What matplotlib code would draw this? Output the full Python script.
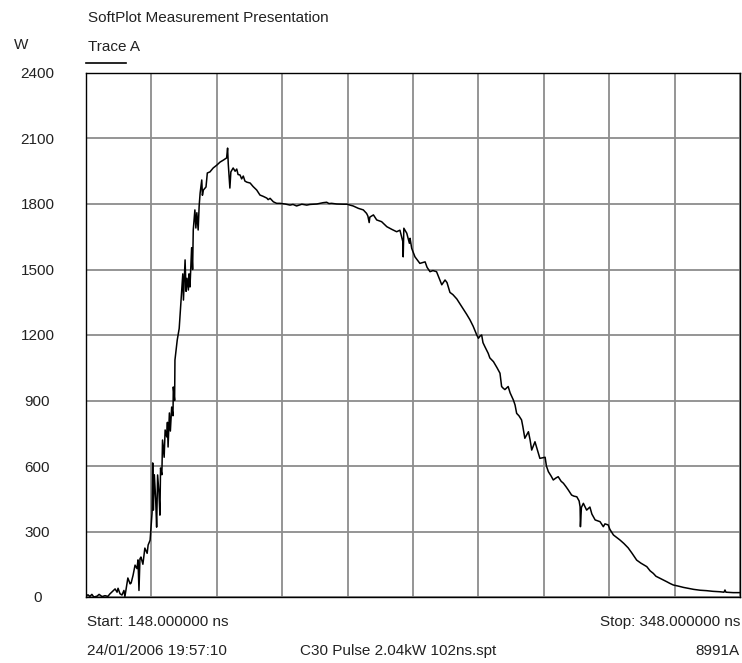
import matplotlib.pyplot as plt
import matplotlib
from matplotlib.lines import Line2D
import numpy as np

matplotlib.rcParams['font.family'] = ['Liberation Sans', 'DejaVu Sans']

# trace: time (ns) and power (W)
time_ns = [148.0, 148.6, 149.2, 149.8, 150.4, 151.4, 152.0, 152.9, 153.8, 154.7,
           155.3, 156.3, 156.9, 157.5, 157.8, 158.4, 159.0, 159.6, 159.9, 160.8,
           161.5, 161.8, 162.4, 163.0, 163.6, 163.9, 164.2, 164.5, 164.8, 165.4,
           166.0, 166.7, 167.0, 167.6, 167.9, 168.2, 168.4, 168.6, 168.9, 169.3,
           169.6, 169.9, 170.3, 170.6, 170.8, 171.2, 171.4, 171.9, 172.2, 172.7,
           172.9, 173.1, 173.5, 173.8, 174.2, 174.6, 174.7, 175.1, 175.2, 175.9,
           176.5, 177.0, 177.6, 177.8, 178.3, 178.6, 178.9, 179.3, 179.5, 179.8,
           180.3, 180.6, 180.8, 181.3, 181.6, 181.9, 182.3, 182.6, 182.9, 183.4,
           183.6, 183.9, 184.7, 185.1, 185.9, 186.9, 188.0, 189.0, 190.0, 191.0,
           191.3, 191.5, 192.0, 192.3, 193.0, 193.6, 194.1, 194.5, 195.1, 195.6,
           196.1, 196.6, 197.2, 198.2, 199.1, 200.2, 201.2, 202.2, 203.3, 203.7,
           204.3, 205.3, 206.3, 207.3, 208.9, 210.4, 211.3, 212.4, 214.0, 215.5,
           216.5, 217.5, 218.6, 219.6, 220.5, 221.6, 222.3, 223.1, 224.7, 226.7,
           227.9, 228.7, 229.7, 231.3, 232.8, 233.8, 234.2, 234.6, 234.8, 235.9,
           236.9, 238.4, 240.0, 241.5, 243.0, 244.0, 244.9, 245.0, 245.2, 246.1,
           246.9, 247.1, 247.6, 248.6, 249.5, 250.1, 251.7, 252.3, 253.2, 254.1,
           255.2, 256.8, 257.8, 258.4, 259.3, 260.2, 261.4, 262.9, 264.4, 265.4,
           266.4, 267.5, 268.0, 268.5, 269.0, 269.4, 270.0, 271.0, 271.5, 272.6,
           273.7, 274.6, 275.1, 275.6, 276.1, 277.1, 277.7, 278.7, 279.2, 279.7,
           280.4, 281.2, 281.6, 282.2, 283.3, 283.8, 284.3, 285.3, 285.9, 286.8,
           288.4, 288.8, 289.4, 290.2, 290.9, 291.7, 292.4, 293.3, 294.0, 294.8,
           295.5, 296.5, 297.2, 298.1, 298.8, 299.1, 299.2, 299.5, 300.1, 301.1,
           302.1, 302.7, 303.7, 305.2, 306.2, 306.7, 307.7, 308.2, 309.3, 310.1,
           311.3, 312.5, 313.8, 315.0, 316.4, 317.7, 319.5, 320.5, 321.5, 322.3,
           323.5, 324.5, 325.6, 326.6, 327.6, 329.1, 330.7, 332.1, 333.8, 335.8,
           337.8, 339.7, 341.9, 343.1, 343.4, 343.7, 345.9, 348.0]
power_w = [5, 10, 3, 12, 0, 4, 12, 2, 6, 3,
           14, 28, 37, 22, 40, 15, 9, 30, 2, 87,
           60, 64, 100, 146, 130, 170, 30, 175, 183, 150,
           224, 200, 238, 260, 320, 385, 614, 398, 560, 450,
           320, 559, 480, 375, 591, 560, 719, 640, 765, 733,
           800, 687, 843, 760, 870, 830, 962, 900, 1085, 1177,
           1230, 1347, 1480, 1360, 1544, 1400, 1460, 1406, 1480, 1420,
           1600, 1500, 1681, 1773, 1690, 1760, 1681, 1790, 1850, 1910,
           1840, 1864, 1878, 1942, 1947, 1965, 1978, 1992, 2001, 2011,
           2056, 1985, 1873, 1947, 1965, 1950, 1960, 1935, 1933, 1915,
           1928, 1905, 1900, 1896, 1880, 1864, 1841, 1835, 1827, 1820,
           1826, 1810, 1803, 1803, 1800, 1795, 1798, 1791, 1799, 1795,
           1798, 1799, 1800, 1803, 1806, 1808, 1802, 1803, 1800, 1799,
           1799, 1795, 1791, 1780, 1773, 1757, 1745, 1715, 1740, 1750,
           1727, 1719, 1696, 1684, 1673, 1680, 1627, 1558, 1689, 1666,
           1620, 1643, 1597, 1558, 1540, 1528, 1535, 1510, 1490, 1495,
           1490, 1430, 1452, 1440, 1395, 1385, 1365, 1330, 1295, 1270,
           1240, 1200, 1185, 1195, 1200, 1165, 1146, 1116, 1095, 1078,
           1050, 1025, 964, 956, 950, 964, 935, 902, 880, 841,
           830, 811, 780, 727, 757, 720, 673, 711, 680, 635,
           640, 600, 574, 555, 536, 545, 551, 530, 521, 505,
           490, 467, 462, 459, 440, 413, 322, 410, 429, 398,
           412, 380, 353, 345, 322, 335, 330, 310, 284, 275,
           261, 245, 225, 200, 169, 155, 139, 120, 108, 95,
           86, 78, 70, 62, 55, 50, 44, 40, 35, 31,
           29, 26, 24, 22, 32, 22, 20, 20]

x_ticks = np.arange(148, 349, 20)
y_ticks = np.arange(0, 2401, 300)

fig = plt.figure(figsize=(7.42, 6.63), dpi=100)
ax = fig.add_axes([86 / 742, 1 - 597 / 663, 654 / 742, 524 / 663])

ax.plot(time_ns, power_w, color='black', linewidth=1.1)

ax.set_xlim(148, 348)
ax.set_ylim(0, 2400)
ax.set_xticks(x_ticks)
ax.set_yticks(y_ticks)
ax.set_yticklabels([str(v) for v in y_ticks], ha='center', fontsize=11, color='#222222')
ax.tick_params(axis='y', length=0, pad=35)
ax.tick_params(axis='x', length=0, labelbottom=False)
ax.grid(True, color='#8c8c8c', linewidth=1.3)
ax.set_axisbelow(True)
for sp in ax.spines.values():
    sp.set_color('black')
    sp.set_linewidth(1.0)

txt = dict(fontsize=11, color='#222222')
fig.text(88 / 742, 1 - 18 / 663, 'SoftPlot Measurement Presentation', va='center', ha='left', **txt)
fig.text(88 / 742, 1 - 47 / 663, 'Trace A', va='center', ha='left', **txt)
fig.text(14 / 742, 1 - 45 / 663, 'W', va='center', ha='left', **txt)
fig.add_artist(Line2D([86 / 742, 126 / 742], [1 - 63 / 663, 1 - 63 / 663], color='black', linewidth=1.2))

fig.text(87 / 742, 1 - 622 / 663, 'Start: 148.000000 ns', va='center', ha='left', **txt)
fig.text(740 / 742, 1 - 622 / 663, 'Stop: 348.000000 ns', va='center', ha='right', **txt)
fig.text(87 / 742, 1 - 651 / 663, '24/01/2006 19:57:10', va='center', ha='left', **txt)
fig.text(300 / 742, 1 - 651 / 663, 'C30 Pulse 2.04kW 102ns.spt', va='center', ha='left', **txt)
fig.text(740 / 742, 1 - 651 / 663, '8991A', va='center', ha='right', **txt)

plt.savefig('out.png', dpi=100)
plt.close()
